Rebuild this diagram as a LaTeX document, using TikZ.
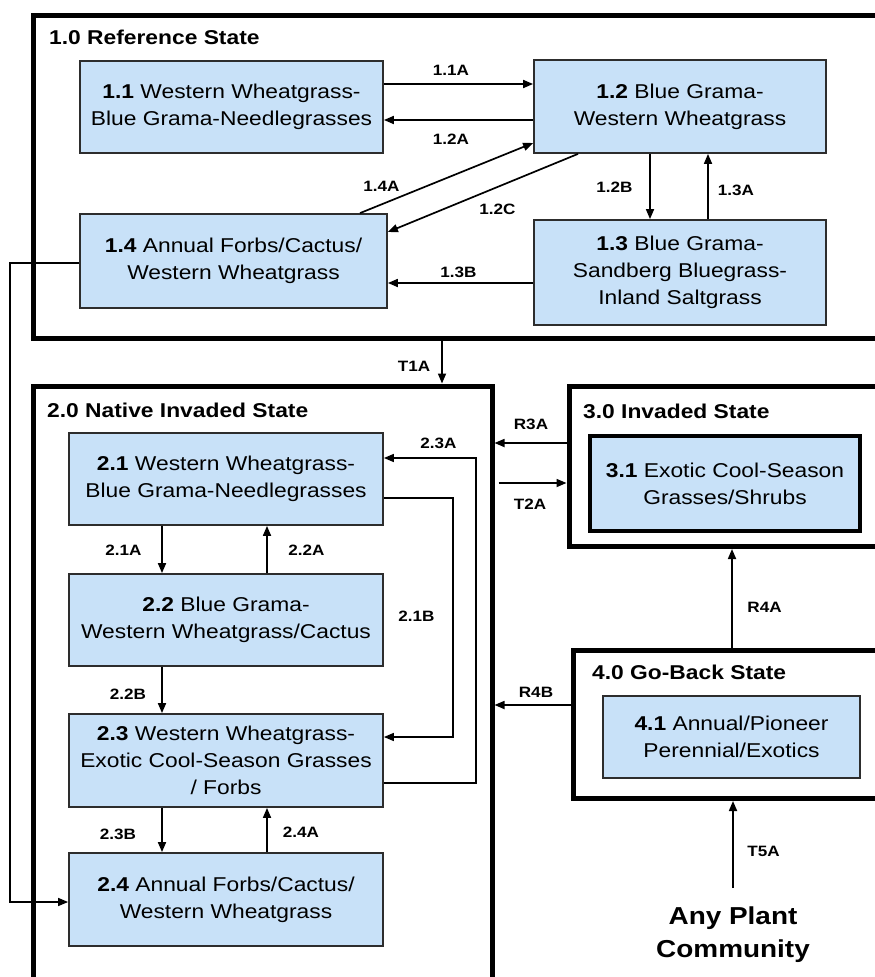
\documentclass[tikz,border=0pt]{standalone}
\usepackage{fontspec}
\setmainfont{Liberation Sans}[FakeStretch=1.14]
\usetikzlibrary{arrows.meta}
\definecolor{boxblue}{RGB}{200,225,248}
\definecolor{boxline}{RGB}{45,45,45}

\begin{document}
\begin{tikzpicture}[x=1pt,y=-1pt,
  state/.style={draw=boxline, line width=1.8pt, fill=boxblue, align=center,
    inner sep=0pt, font=\fontsize{20}{27}\selectfont},
  frame/.style={draw=black, line width=5pt, inner sep=0pt},
  title/.style={anchor=base west, inner sep=0pt, font=\fontsize{20}{24}\selectfont\bfseries},
  lbl/.style={inner sep=0pt, font=\fontsize{15}{18}\selectfont\bfseries},
  arr/.style={line width=1.7pt, -{Triangle[length=10pt,width=8pt]}},
  thinarr/.style={line width=1.5pt, -{Triangle[length=10pt,width=8pt]}},
]
\useasboundingbox (0,0) rectangle (875,977);
\fill[white] (0,0) rectangle (875,977);
\clip (0,0) rectangle (875,977);

% state frames (right and bottom sides run off the page)
\node[frame, minimum width=871.5pt, minimum height=323pt] (f1) at (469.25,176.5) {};
\node[frame, minimum width=458.5pt, minimum height=614pt] (f2) at (262.75,693) {};
\node[frame, minimum width=336pt, minimum height=160pt] (f3) at (737,466.5) {};
\node[frame, minimum width=332pt, minimum height=148.5pt] (f4) at (739,724.25) {};

\node[title] (t1) at (49,44) {1.0 Reference State};
\node[title] (t2) at (47,417) {2.0 Native Invaded State};
\node[title] (t3) at (583,418) {3.0 Invaded State};
\node[title] (t4) at (592,679) {4.0 Go-Back State};

% community phases
\node[state, minimum width=303pt, minimum height=92pt] (b11) at (231.5,107)
  {\textbf{1.1} Western Wheatgrass-\\Blue Grama-Needlegrasses};
\node[state, minimum width=292pt, minimum height=93pt] (b12) at (680,106.5)
  {\textbf{1.2} Blue Grama-\\Western Wheatgrass};
\node[state, minimum width=292pt, minimum height=105pt] (b13) at (680,272.5)
  {\textbf{1.3} Blue Grama-\\Sandberg Bluegrass-\\Inland Saltgrass};
\node[state, minimum width=307pt, minimum height=94pt] (b14) at (233.5,261)
  {\textbf{1.4} Annual Forbs/Cactus/\\Western Wheatgrass};

\node[state, minimum width=314pt, minimum height=92pt] (b21) at (226,479)
  {\textbf{2.1} Western Wheatgrass-\\Blue Grama-Needlegrasses};
\node[state, minimum width=314pt, minimum height=92pt] (b22) at (226,620)
  {\textbf{2.2} Blue Grama-\\Western Wheatgrass/Cactus};
\node[state, minimum width=314pt, minimum height=93pt] (b23) at (226,760.5)
  {\textbf{2.3} Western Wheatgrass-\\Exotic Cool-Season Grasses\\/ Forbs};
\node[state, minimum width=314pt, minimum height=93pt] (b24) at (226,899.5)
  {\textbf{2.4} Annual Forbs/Cactus/\\Western Wheatgrass};

\node[state, line width=3.2pt, draw=black, minimum width=270pt, minimum height=95pt] (b31) at (725,483.5)
  {\textbf{3.1} Exotic Cool-Season\\Grasses/Shrubs};
\node[state, minimum width=257pt, minimum height=82pt] (b41) at (731.5,737)
  {\textbf{4.1} Annual/Pioneer\\Perennial/Exotics};

\node[anchor=north, inner sep=0pt, align=center, font=\fontsize{24.5}{33}\selectfont\bfseries]
  (apc) at (733,907) {Any Plant\\Community};

% transitions within the reference state
\draw[arr] ([yshift=23pt]b11.east) -- ([yshift=22.5pt]b12.west);
\draw[arr] ([yshift=-13.5pt]b12.west) -- ([yshift=-13pt]b11.east);
\draw[arr] ([xshift=126.5pt]b14.north) -- ([yshift=-36.5pt]b12.west);
\draw[arr] ([xshift=-102pt]b12.south) -- ([yshift=29pt]b14.east);
\draw[arr] ([xshift=-30pt]b12.south) -- ([xshift=-30pt]b13.north);
\draw[arr] ([xshift=28pt]b13.north) -- ([xshift=28pt]b12.south);
\draw[arr] ([yshift=-10.5pt]b13.west) -- ([yshift=-22pt]b14.east);

\node[lbl] (l11a) at (451,70) {1.1A};
\node[lbl] (l12a) at (451,139) {1.2A};
\node[lbl] (l14a) at (381.5,186) {1.4A};
\node[lbl] (l12c) at (497.5,209) {1.2C};
\node[lbl] (l12b) at (614.5,187.5) {1.2B};
\node[lbl] (l13a) at (736,190.5) {1.3A};
\node[lbl] (l13b) at (458.5,272.5) {1.3B};

% 1.4 straight down to 2.4
\coordinate (k14) at (10,600);
\draw[thinarr] ([yshift=-2pt]b14.west) -| (k14) |- ([yshift=-2.5pt]b24.west);

% transitions within the native invaded state
\draw[arr] ([xshift=-64pt]b21.south) -- ([xshift=-64pt]b22.north);
\draw[arr] ([xshift=41pt]b22.north) -- ([xshift=41pt]b21.south);
\draw[arr] ([xshift=-64pt]b22.south) -- ([xshift=-64pt]b23.north);
\draw[arr] ([xshift=-64pt]b23.south) -- ([xshift=-64pt]b24.north);
\draw[arr] ([xshift=41pt]b24.north) -- ([xshift=41pt]b23.south);
\coordinate (r21) at (453,600);
\draw[thinarr] ([yshift=-19pt]b21.east) -| (r21) |- ([yshift=23.5pt]b23.east);
\coordinate (r23) at (476,600);
\draw[thinarr] ([yshift=-22.5pt]b23.east) -| (r23) |- ([yshift=21pt]b21.east);

\node[lbl] (l21a) at (123.5,550) {2.1A};
\node[lbl] (l22a) at (306.5,550) {2.2A};
\node[lbl] (l22b) at (128,694) {2.2B};
\node[lbl] (l23b) at (118,834.5) {2.3B};
\node[lbl] (l24a) at (301,832) {2.4A};
\node[lbl] (l21b) at (416.5,616.5) {2.1B};
\node[lbl] (l23a) at (438.5,443) {2.3A};

% transitions between states
\draw[arr] ([xshift=-27.25pt]f1.south) -- ([xshift=179.25pt]f2.north);
\draw[arr] ([yshift=23.5pt]f3.west) -- ([yshift=250pt]f2.east);
\draw[arr] ([xshift=4pt,yshift=210pt]f2.east) -- ([yshift=-16.5pt]f3.west);
\draw[arr] ([xshift=-7pt]f4.north) -- ([xshift=-5pt]f3.south);
\draw[arr] ([yshift=19.25pt]f4.west) -- ([yshift=-12pt]f2.east);
\draw[arr] ([yshift=19pt]apc.north) -- ([xshift=-6pt]f4.south);

\node[lbl] (lt1a) at (414,366) {T1A};
\node[lbl] (lr3a) at (531,424) {R3A};
\node[lbl] (lt2a) at (530,504) {T2A};
\node[lbl] (lr4a) at (764.5,607) {R4A};
\node[lbl] (lr4b) at (536,692) {R4B};
\node[lbl] (lt5a) at (763.5,851.5) {T5A};
\end{tikzpicture}
\end{document}
